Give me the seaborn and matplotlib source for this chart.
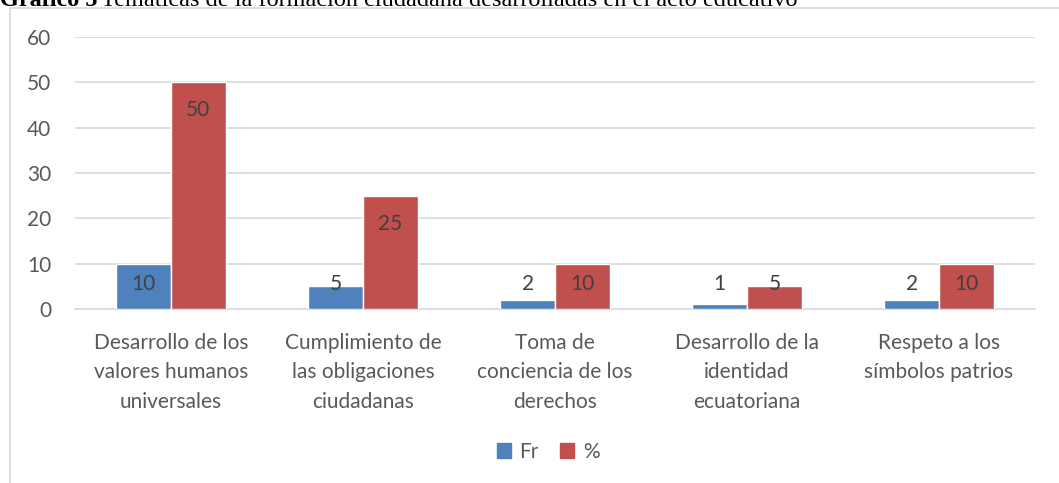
import pandas as pd
import seaborn as sns
import matplotlib.pyplot as plt
from matplotlib.patches import Rectangle

# data
categorias = ['Desarrollo de los\nvalores humanos\nuniversales',
              'Cumplimiento de\nlas obligaciones\nciudadanas',
              'Toma de\nconciencia de los\nderechos',
              'Desarrollo de la\nidentidad\necuatoriana',
              'Respeto a los\nsímbolos patrios']
fr = [10, 5, 2, 1, 2]
pct = [50, 25, 10, 5, 10]
series = ['Fr', '%']

df = pd.DataFrame({
    'cat': categorias * 2,
    'serie': [series[0]] * len(fr) + [series[1]] * len(pct),
    'valor': fr + pct,
})

sns.set_style('white')
plt.rcParams['font.family'] = ['Lato', 'DejaVu Sans']
grey = '#595959'
colors = {'Fr': '#4F81BD', '%': '#C0504D'}
fs = 15

fig = plt.figure(figsize=(10.59, 4.83), dpi=100)
ax = fig.add_axes([75/1059, 1-309/483, 960/1059, 272/483])

sns.barplot(data=df, x='cat', y='valor', hue='serie', palette=colors,
            width=0.57, gap=0, saturation=1, ax=ax, legend=False, zorder=3)

ax.set_ylim(0, 60)
ax.set_xlim(-0.5, 4.5)
ax.set_yticks(range(0, 61, 10))
ax.yaxis.grid(True, color='#D9D9D9', linewidth=1.2, zorder=0)
ax.set_xlabel('')
ax.set_ylabel('')
for s in ['top', 'right', 'left']:
    ax.spines[s].set_visible(False)
ax.spines['bottom'].set_color('#D9D9D9')
ax.spines['bottom'].set_linewidth(1.2)
ax.tick_params(axis='both', length=0, colors=grey, labelsize=fs)
ax.tick_params(axis='y', pad=17)
ax.tick_params(axis='x', pad=17)
for lab in ax.get_xticklabels():
    lab.set_linespacing(1.6)
    lab.set_verticalalignment('top')

# data labels (inside end, kept above the base for short bars)
for cont in ax.containers:
    for bar in cont:
        v = bar.get_height()
        y = max(v - 6.2, 5.5)
        ax.text(bar.get_x() + bar.get_width() / 2, y, f'{v:g}',
                ha='center', va='center', fontsize=fs, color='#404040', zorder=4)

# legend
handles = [Rectangle((0, 0), 1, 1, color=colors[s]) for s in series]
fig.legend(handles, series, loc='center', bbox_to_anchor=(548/1059, 1-452/483),
           ncol=2, frameon=False, fontsize=fs, handlelength=0.7, handleheight=0.7,
           handletextpad=0.4, columnspacing=1.0, labelcolor=grey)

# chart frame
fig.patches.append(Rectangle((10/1059, -0.1), 1.2, 1.1 - 8/483,
                             transform=fig.transFigure, fill=False,
                             edgecolor='#D9D9D9', linewidth=1.2))

# caption cut at the top of the image
fig.text(0.0, 1-6/483, 'Gráfico 5', family='Liberation Serif', fontweight='bold',
         fontsize=17.5, va='baseline', ha='left', color='black')
fig.text(101/1059, 1-6/483,
         'Temáticas de la formación ciudadana desarrolladas en el acto educativo',
         family='Liberation Serif', fontsize=17.5, va='baseline', ha='left', color='black')

fig.savefig('out.png', dpi=100)
